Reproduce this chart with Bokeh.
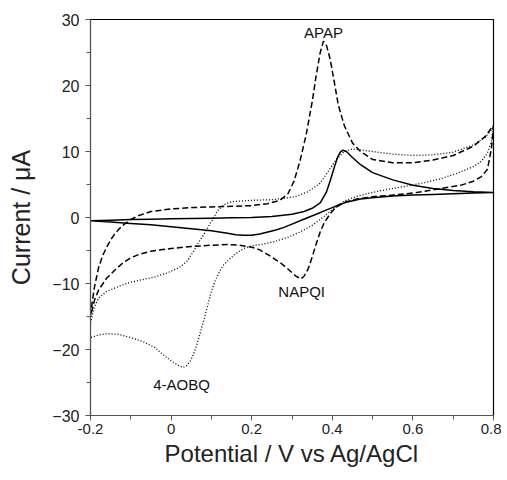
from bokeh.plotting import figure
from bokeh.models import FixedTicker, CustomJSTickFormatter, Range1d
from bokeh.core.properties import value
from bokeh.embed import file_html
from bokeh.resources import INLINE

# ---- data (potential V vs Ag/AgCl, current µA) ----
solid_x = [-0.2, -0.15, -0.1, -0.05, 0.0, 0.05, 0.1, 0.15, 0.2, 0.25, 0.3, 0.33, 0.35, 0.37, 0.385,
           0.395, 0.405, 0.413, 0.42, 0.426, 0.435, 0.45, 0.47, 0.5, 0.55, 0.6, 0.65, 0.7, 0.75, 0.8,
           0.75, 0.7, 0.65, 0.6, 0.55, 0.5, 0.47, 0.44, 0.42, 0.4, 0.38, 0.36, 0.34, 0.32, 0.3, 0.28,
           0.26, 0.24, 0.22, 0.2, 0.18, 0.16, 0.14, 0.12, 0.1, 0.05, 0.0, -0.05, -0.1, -0.15, -0.2]
solid_y = [-0.5, -0.4, -0.3, -0.25, -0.2, -0.15, -0.1, -0.05, 0.0, 0.15, 0.5, 0.9, 1.4, 2.2, 3.8,
           5.6, 7.6, 9.1, 9.9, 10.2, 10.0, 9.1, 8.0, 6.8, 5.7, 4.9, 4.4, 4.1, 3.9, 3.8,
           3.7, 3.6, 3.5, 3.4, 3.25, 3.0, 2.8, 2.4, 2.0, 1.5, 1.0, 0.5, 0.0, -0.5, -1.0, -1.5,
           -1.9, -2.2, -2.5, -2.7, -2.7, -2.6, -2.4, -2.2, -2.0, -1.7, -1.4, -1.1, -0.9, -0.7, -0.5]

dash_x = [-0.2, -0.195, -0.19, -0.18, -0.17, -0.16, -0.15, -0.14, -0.13, -0.12, -0.1, -0.08, -0.05,
          0.0, 0.05, 0.1, 0.15, 0.2, 0.24, 0.27, 0.29, 0.305, 0.32, 0.335, 0.35, 0.36, 0.37, 0.378,
          0.386, 0.395, 0.405, 0.415, 0.43, 0.45, 0.47, 0.5, 0.55, 0.6, 0.65, 0.7, 0.75, 0.78, 0.8,
          0.795, 0.785, 0.77, 0.75, 0.72, 0.67, 0.6, 0.55, 0.5, 0.46, 0.43, 0.41, 0.395, 0.38, 0.37,
          0.36, 0.35, 0.34, 0.33, 0.322, 0.31, 0.29, 0.27, 0.25, 0.22, 0.2, 0.17, 0.14, 0.1, 0.05,
          0.0, -0.05, -0.08, -0.1, -0.12, -0.14, -0.16, -0.18, -0.19, -0.2]
dash_y = [-15, -12.5, -10.5, -7.6, -5.8, -4.5, -3.4, -2.5, -1.8, -1.2, -0.3, 0.3, 0.9,
          1.3, 1.5, 1.6, 1.7, 1.8, 2.1, 2.6, 3.6, 5.5, 8.6, 12.5, 17.5, 21.5, 25.0, 26.7,
          26.0, 23.9, 20.5, 17.0, 13.9, 11.3, 10.0, 8.8, 8.3, 8.3, 8.7, 9.4, 10.8, 12.3, 14.0,
          10.5, 7.3, 6.2, 5.5, 4.9, 4.4, 3.7, 3.4, 3.15, 2.8, 2.3, 1.6, 0.6, -0.8, -2.2,
          -4.0, -6.0, -7.8, -8.9, -9.3, -8.9, -7.8, -6.8, -6.0, -4.9, -4.5, -4.2, -4.1, -4.2, -4.4,
          -4.7, -5.1, -5.6, -6.1, -6.9, -8.0, -9.2, -11.0, -12.5, -15]

dot_x = [-0.2, -0.19, -0.18, -0.16, -0.14, -0.12, -0.1, -0.07, -0.04, -0.01, 0.02, 0.04, 0.055, 0.07,
         0.085, 0.1, 0.115, 0.13, 0.15, 0.2, 0.25, 0.28, 0.31, 0.34, 0.37, 0.39, 0.41, 0.43, 0.45,
         0.5, 0.55, 0.6, 0.65, 0.7, 0.75, 0.78, 0.8,
         0.795, 0.785, 0.77, 0.75, 0.71, 0.67, 0.63, 0.58, 0.54, 0.5, 0.46, 0.43, 0.41, 0.39, 0.37,
         0.35, 0.32, 0.29, 0.26, 0.23, 0.2, 0.18, 0.16, 0.145, 0.13, 0.12, 0.11, 0.1, 0.09, 0.08,
         0.07, 0.06, 0.05, 0.04, 0.03, 0.02, 0.0, -0.02, -0.04, -0.07, -0.1, -0.13, -0.16, -0.18, -0.2]
dot_y = [-16, -13.5, -12.2, -11.2, -10.7, -10.2, -9.8, -9.4, -9.0, -8.4, -7.6, -6.6, -5.2, -3.6,
         -2.2, -0.6, 1.0, 1.9, 2.4, 2.6, 2.7, 2.9, 3.2, 3.9, 5.2, 7.0, 8.8, 10.0, 10.4,
         10.0, 9.6, 9.4, 9.5, 9.9, 11.0, 12.2, 13.7,
         11.5, 9.8, 8.5, 7.7, 6.7, 5.9, 5.3, 4.7, 4.3, 3.8, 3.2, 2.5, 1.6, 0.7, -0.3,
         -1.2, -2.2, -3.0, -3.6, -4.0, -4.3, -4.7, -5.5, -6.3, -7.2, -8.2, -9.5, -11.2, -13.5, -15.8,
         -18.0, -20.0, -21.5, -22.4, -22.7, -22.5, -21.7, -20.8, -19.7, -18.8, -18.2, -17.7, -17.6, -17.8, -18.2]

label_text = ["APAP", "NAPQI", "4-AOBQ"]
label_x = [0.378, 0.324, 0.026]
label_y = [28.0, -11.2, -25.3]

x_ticks = [-0.2, 0.0, 0.2, 0.4, 0.6, 0.8]
x_minor = [-0.1, 0.1, 0.3, 0.5, 0.7]
y_ticks = [-30, -20, -10, 0, 10, 20, 30]
y_minor = [-25, -15, -5, 5, 15, 25]

FONT = "Liberation Sans"

p = figure(width=501, height=472, output_backend="svg", toolbar_location=None,
           x_range=Range1d(-0.2, 0.8), y_range=Range1d(-30, 30),
           min_border_left=90, min_border_right=8, min_border_top=19, min_border_bottom=57)
p.grid.visible = False
p.outline_line_color = "black"
p.outline_line_width = 1.2

p.line(solid_x, solid_y, line_color="black", line_width=1.5)
p.line(dash_x, dash_y, line_color="black", line_width=1.5, line_dash="6 3")
p.line(dot_x, dot_y, line_color="black", line_width=1.3, line_dash="1 2")

p.text(x=label_x, y=label_y, text=label_text, text_font=value(FONT), text_font_size="15px",
       text_align="center", text_baseline="middle", text_color="#111111")

p.xaxis.ticker = FixedTicker(ticks=x_ticks, minor_ticks=x_minor)
p.yaxis.ticker = FixedTicker(ticks=y_ticks, minor_ticks=y_minor)
p.xaxis.formatter = CustomJSTickFormatter(code="return Math.abs(tick) < 1e-9 ? '0' : tick.toFixed(1);")

p.xaxis.axis_label = "Potential / V vs Ag/AgCl"
p.yaxis.axis_label = "Current / \u03bcA"
for ax in (p.xaxis, p.yaxis):
    ax.axis_label_text_font = FONT
    ax.axis_label_text_font_style = "normal"
    ax.axis_label_text_color = "#222222"
    ax.major_label_text_font = FONT
    ax.major_label_text_color = "#222222"
    ax.major_tick_in = 0
    ax.major_tick_out = 5
    ax.minor_tick_in = 0
    ax.minor_tick_out = 4
    ax.axis_line_color = "#555555"
    ax.major_tick_line_color = "#555555"
    ax.minor_tick_line_color = "#555555"
p.xaxis.axis_label_text_font_size = "24px"
p.yaxis.axis_label_text_font_size = "25px"
p.xaxis.major_label_text_font_size = "15px"
p.yaxis.major_label_text_font_size = "16px"
p.xaxis.major_label_standoff = 3
p.yaxis.major_label_standoff = 6
p.xaxis.axis_label_standoff = 3
p.yaxis.axis_label_standoff = 14

open("out.html", "w").write(file_html(p, INLINE))
